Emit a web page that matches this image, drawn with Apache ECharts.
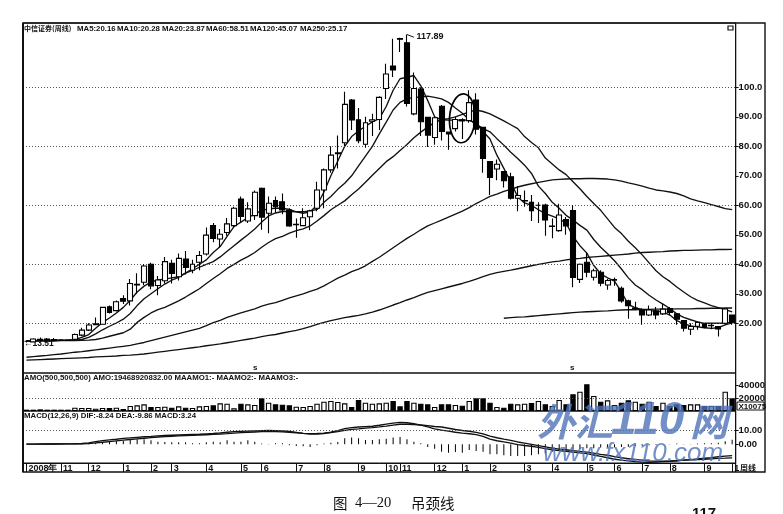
<!DOCTYPE html>
<html><head><meta charset="utf-8">
<style>html,body{margin:0;padding:0;background:#fff;overflow:hidden}#c{width:783px;height:514px}</style>
<script src="https://cdn.jsdelivr.net/npm/echarts@6/dist/echarts.min.js"></script>
</head><body><div id="c"></div>
<script>
const monthLabels = ['2008年','','','','','11','','','','12','','','','','1','','','','2','','','3','','','','','4','','','','','5','','','6','','','','','7','','','','8','','','','','9','','','','10','','11','','','','','12','','','','1','','','','2','','','','','3','','','','4','','','','','5','','','','6','','','','7','','','','8','','','','','9','','','','1'];
const openP = [13.9,13.7,14.6,14.7,14.2,14.3,14.2,14.6,16,17.7,19.5,19.7,25.6,24.3,28.4,27.6,33,33.9,40,32.8,34.4,40.3,35.8,41.8,38,40.7,43.5,53.1,48.6,50.8,53.1,62.1,54.7,56.5,65.8,57.3,61.6,61.2,58.4,53.4,53.1,56.1,59,65.2,72,77.5,81.2,95.7,89,80.7,88.5,89.1,99.6,107.2,116.5,115.1,91,99.4,89.8,83,93.6,84.8,86,89,88.7,95.7,86.4,74.8,72.3,71.4,69.7,62.4,61.5,61,60,60.1,52.8,51.4,55.2,58.2,34.9,40.7,35.6,37.3,33,34.6,31.9,27.6,25,24.5,22.8,24.2,23.2,25,23.2,20.9,18,19,19.8,19.2,18.9,20,22.8];
const closeP = [13.9,14.7,14.2,14,14.5,14.3,14.3,16.2,17.7,19.4,19.8,25.4,23.7,27.3,27.5,33.5,33.2,39.4,32.7,34.7,40.9,36.9,42,38.9,40,43,49.9,48.8,50.2,53.7,59,56.2,58.8,64.4,56,60.7,59.5,58.4,53,53.6,55.8,58.1,65.2,72,77,77.8,94.2,88.9,81.9,88,89,96.6,104.5,105.9,116.3,94.5,99.6,88.3,83.8,89.7,85,84.2,89.1,88.6,94.8,85.8,75.9,69.4,73.9,68.3,62.4,63.3,61.6,58.2,60,55,53,56.7,53,35.5,40,37.3,37.8,33.6,34.5,34.8,27.6,26,25.2,22.8,24.5,22.8,24.8,23.7,21.4,18.3,18.9,20.3,18.6,19.3,18.1,24.9,20.2];
const lowP = [13.5,13.5,13.8,13.6,13.9,14,14,14,15.6,17.4,19.3,19.5,23.3,24,26.5,26,30,33,31.5,29.5,33.5,33.5,34.5,36.5,37,38,43,47.5,45.7,49.7,52.5,54,54,55,51.7,50.5,57.5,57,52.7,49,53,51.5,58,59,71,72.5,80,85.5,81,79.5,83.5,85.5,96,103.5,112,93.5,90.5,83.5,79.8,80.5,82,78.8,85,82.5,88,84,71,63.5,68.5,66,62,58,59.5,54.7,54,49.7,48.8,51,50,32.2,33.7,35.6,34.5,32.6,31.4,32.7,27,21.5,24.5,19.5,22.5,21.4,22.8,22.7,19.5,17.2,16,17.8,18.3,18,15.5,19.7,19.5];
const highP = [14.2,14.9,15.2,15,15,14.6,14.5,16.5,18.5,20,22,25.6,26,27.7,29.5,35,37,40,40.5,36,42.5,41.5,43.7,44.5,41.5,44.5,52.5,54,52,55.7,59.5,63,61,65,66,63,63,64,59,55.5,59,58.5,68,72.5,80,83.7,98.5,96,93,90,91,97,108,116.5,116.8,117.89,105,100,90,90,94,85,90,89.5,99,98,86.5,75,75.5,71.5,71,66.5,65,63.5,61,60.5,55.5,60.5,56,60,40.3,44,38.5,38,35,35.5,32.5,28,27.3,25,26,25.5,26.5,25.5,23.5,21,20,20.5,20,20,19,25.2,23];
const ma5 = [14,14.1,14.2,14.2,14.3,14.3,14.3,14.5,15.2,16.2,18.3,20.3,21.8,23.5,25.4,27.8,30.6,32.6,34,34.7,35,35.4,35.8,37,38.5,40,41.5,44,46,49.5,52.8,54.3,55.8,57,58.3,58.8,59,59,58.6,57.8,57.3,57.8,60,64.5,70,75,80,83.3,85.2,86.8,88.3,89.4,93.5,99,102.9,103.4,104,100.5,95.5,90,89,88.9,88.9,88.9,88.9,87.8,85,82.5,77,72.5,68,62.8,60.8,60,58.5,57.2,56.3,55.4,53.9,49.5,46.3,43.8,39.6,36.8,35.4,34.3,30.6,26.4,25.2,24.7,24.3,24.1,23.9,22.8,20.9,19.9,19.1,18.8,18.5,18.3,18.5,19.5,20.16];
const ma10 = [14,14,14.1,14.2,14.2,14.2,14.2,14.3,14.5,15.2,16.4,17.8,19,20.1,21.4,23.3,26,28.3,30,31.7,33.3,34.6,35.6,37,37.9,39,40,40.9,42.5,44.4,46.3,48.2,50,52,54.3,56.4,57.4,57.9,57.9,57.8,57.8,58,58.6,61,63,65.4,67.5,70,73.4,76.7,80,84.2,88.2,92.3,94.9,96.1,96.6,96.7,97,96.6,96.1,94.9,93,91.2,89,87.5,86,84.9,82.6,80.4,78,75.9,73.6,70.8,66.5,64,61,59,56.6,55,53.2,51.6,48.4,45.8,43.6,41.2,38.4,35.4,33,31.4,29.5,27.9,26.5,25,23.2,22,21.2,20.5,20,20,20,20.1,20.28];
const ma20 = [14,14,14,14,14,14.1,14.1,14.1,14.2,14.3,14.5,15,15.6,16.2,16.8,18,20.3,22,23.5,24.6,25.4,26.5,27.6,28.9,30.3,31.7,33.5,35.2,36.8,38.6,40,41.4,42.6,44,45.8,47.4,48.7,49.5,50.6,51.4,52,53,54.7,56.5,58.5,60,61.5,63.6,65.5,67.8,70.2,72.5,74.8,76.5,78.6,80.6,82.9,84.8,86.5,88.1,89,89.4,90,90.8,91.7,92.3,91.8,91,89.8,88.6,87.3,86,83.3,81.3,79.5,76,74,72,70.4,68,65.6,63,60.6,58.3,55.4,52.5,50.4,47.8,45.6,43.2,40.5,37.8,35.8,34.2,32.3,30.6,29,27.8,26.9,26,25.3,24.6,23.87];
const ma60 = [8.5,8.7,8.9,9.1,9.4,9.6,9.9,10.2,10.4,10.7,11,11.3,11.6,11.9,12.2,12.5,13,13.5,14.1,14.7,15.3,15.9,16.5,17.1,17.7,18.3,19.2,20.2,21,22,22.8,23.5,24.2,24.9,25.8,26.5,27,27.8,28.6,29.3,30,30.8,31.6,32.7,34,35.3,36.3,37.5,38.4,39.5,41,42.4,44,45.6,47.2,48.8,50.2,51.7,53,54,55,56,57,58,59.2,60.6,61.8,63,63.8,64.7,65.4,66.2,66.8,67.3,67.8,68.2,68.6,68.8,68.9,69,69,69.1,69.1,69,68.9,68.6,68.2,67.6,67.1,66.5,65.8,65.2,64.9,64.5,64,63.2,62.2,61.5,60.9,60.2,59.6,58.9,58.51];
const ma120 = [7.5,7.6,7.7,7.8,7.9,8,8.1,8.2,8.3,8.4,8.6,8.7,8.8,8.9,9.1,9.2,9.4,9.6,9.9,10.2,10.5,10.8,11.1,11.4,11.7,12,12.4,12.7,13,13.4,13.8,14.2,14.6,15,15.5,15.9,16.2,16.7,17.2,17.6,18.2,18.9,19.6,20.3,20.9,21.4,21.9,22.3,22.7,23.2,23.8,24.5,25.3,26.2,27,27.9,28.7,29.6,30.5,31.1,31.7,32.3,32.9,33.5,34.2,35,35.8,36.6,37.2,37.6,38,38.5,39,39.5,40,40.4,40.8,41.1,41.5,41.8,42,42.3,42.5,42.7,42.9,43.1,43.3,43.5,43.8,44,44.1,44.2,44.3,44.5,44.6,44.7,44.7,44.8,44.9,44.9,45,45,45.07];
const ma250Tail = [21.7,21.9,22.1,22.2,22.4,22.6,22.8,23,23.2,23.4,23.6,23.8,23.9,24,24.1,24.2,24.4,24.5,24.6,24.6,24.7,24.7,24.8,24.8,24.8,24.9,24.9,24.9,25,25,25.1,25.1,25.2,25.17];
const volume = [2050,2050,2550,2050,2050,2050,2050,5130,4620,4620,3590,4620,4620,5130,3080,7700,8720,10260,6160,6160,6670,5130,7180,5130,4620,7180,7700,8720,11800,11290,4100,11290,10260,9230,19490,12830,10260,9750,8720,6670,6160,7700,11290,14360,15390,13850,11800,6160,16930,12830,11290,11800,12830,15390,7180,15390,12830,11290,10260,6160,10260,10260,9230,8210,15390,19490,19490,12830,6160,5130,11290,10260,11290,12310,15390,10260,7700,16930,10260,25650,29750,41040,23090,14360,16420,9230,12830,16420,14360,11290,14360,7700,12830,7700,10260,9230,10260,10260,7700,7700,7700,29750,19469];
const dif = [0.1,0.1,0.2,0.2,0.2,0.3,0.3,0.4,0.6,1,1.9,2.7,3.2,3.7,4.3,4.7,5.1,5.5,5.8,6.2,6.4,6.6,6.8,7,7.2,7.3,7.6,7.9,8.3,8.8,9.2,9.4,9.6,9.8,10,10.1,10,9.7,9.4,8.7,8,7.4,7.5,7.9,8.8,10,11.4,12.2,12.6,12.9,13.2,13.9,14.7,15.4,16,15.7,15,14,12.7,11.2,10.4,9.6,8.8,8.2,7.7,7,5.8,3.8,2.6,1.8,0.8,-0.2,-0.9,-1.4,-2.3,-3.2,-4,-4.6,-5.1,-5.7,-6.3,-6.8,-7.8,-8.8,-9.8,-10.9,-11.6,-12.1,-12.6,-13,-13.1,-13,-12.7,-12.4,-12,-11.6,-11.2,-10.7,-10.2,-9.7,-9.1,-8.6,-8.24];
const dea = [0.1,0.1,0.1,0.2,0.2,0.2,0.3,0.3,0.4,0.6,1,1.5,2,2.5,3,3.5,4,4.4,4.9,5.3,5.6,5.9,6.2,6.4,6.6,6.8,7,7.2,7.5,7.8,8.2,8.5,8.8,9,9.2,9.3,9.3,9.1,8.8,8.4,8,7.8,7.9,8.1,8.6,9.3,10.2,10.9,11.3,11.8,12.2,12.7,13.3,14,14.6,14.6,14.4,14.1,13.6,13,12.6,11.7,10.8,10.1,9.5,8.7,7.6,6,4.8,3.8,2.9,1.7,0.8,-0.1,-1,-1.9,-2.8,-3.5,-4,-4.6,-5.2,-5.7,-6.5,-7.3,-8,-9,-9.8,-10.4,-11,-11.6,-12.1,-12.3,-12.3,-12.2,-12,-11.6,-11.4,-11.2,-10.9,-10.6,-10.3,-10.1,-9.86];
const macd = [0.1,0.1,0.1,0.1,0.1,0.1,0.1,0.7,0.5,0.3,1.2,1.7,1.7,2.4,2.4,3.4,3.6,3.6,2.9,1.9,1.7,1.5,1.5,1.5,0.7,0.7,1.5,1.9,1.5,2.9,1.9,1.9,2.9,1.9,0.5,0.2,0.7,0.7,-0.7,-1.2,-1.5,-1.9,-0.7,0.5,1.2,1.7,4.4,4.9,4.4,3.2,3.2,3.6,4.1,4.9,5.4,3.6,1.9,0.7,-1.9,-3.2,-5.4,-6.1,-5.6,-6.1,-4.1,-4.9,-5.4,-7.3,-7.3,-8,-8.5,-8.5,-8.5,-8,-7.3,-6.8,-5.4,-4.4,-3.9,-3.6,-3.4,-2.9,-2.9,-2.4,-2.4,-2.2,-1.9,-1.7,-1.2,-1,-0.7,-0.5,-0.2,-0.2,0.5,-0.2,0.2,0.5,0.7,0.7,1.2,2.2,3.24];
const priceTicks = [20,30,40,50,60,70,80,90,100];
const priceGrid = [20,40,60,80,100];
const volumeTicks = [20000,40000];
const macdTicks = [0,10];
const highValue = 117.89, lowValue = 13.51;
const headMain = [['中信证券(周线)',24],['MA5:20.16',77],['MA10:20.28',117],['MA20:23.87',162],['MA60:58.51',206],['MA120:45.07',250],['MA250:25.17',300]];
const headAmo = 'AMO(500,500,500) AMO:19468920832.00 MAAMO1:- MAAMO2:- MAAMO3:-';
const headMacd = 'MACD(12,26,9) DIF:-8.24 DEA:-9.86 MACD:3.24';
const candles = openP.map((o,i)=>[o,closeP[i],lowP[i],highP[i]]);
const ma250 = new Array(openP.length-ma250Tail.length).fill(null).concat(ma250Tail);
const isUp = i => closeP[i]>=openP[i];

const L=23, R=783-735.6, B='#111', F='"Liberation Sans",Arial,sans-serif';
const lab = {color:B,fontFamily:F,fontWeight:'bold',fontSize:9.5,margin:3};
const dotted = v => ({silent:true,symbol:'none',label:{show:false},animation:false,
  lineStyle:{color:'#555',type:[1,2],width:1},data:v.map(y=>({yAxis:y}))});
const grid = (top,h)=>({left:L,right:R,top:top,height:h,show:true,borderColor:B,borderWidth:1,backgroundColor:'transparent'});
const xA = (g,extra)=>Object.assign({type:'category',gridIndex:g,data:monthLabels,boundaryGap:true,
  axisLine:{show:false,onZero:false},axisTick:{show:false},axisLabel:{show:false},splitLine:{show:false}},extra||{});
const yA = (g,min,max,ticks,fmt)=>({type:'value',gridIndex:g,position:'right',min:min,max:max,scale:false,
  axisLine:{show:true,lineStyle:{color:B,width:1}},
  axisTick:{show:true,length:3,lineStyle:{color:B,width:1},customValues:ticks},
  axisLabel:{show:true,...lab,customValues:ticks,formatter:fmt},splitLine:{show:false}});
const line = (name,data,x,y)=>({name,type:'line',data,xAxisIndex:x||0,yAxisIndex:y||0,symbol:'none',silent:true,
  lineStyle:{color:B,width:1.35},connectNulls:false,animation:false,z:4});
const txt = (t,x,y,o)=>({type:'text',x,y,silent:true,z:50,style:Object.assign({text:t,fill:B,font:'bold 7.8px '+F,textVerticalAlign:'middle'},o||{})});
const pointLabel = (text,offset,size)=>({show:true,position:'right',distance:0,formatter:text,color:B,fontFamily:F,fontWeight:'bold',fontSize:size,offset:offset});

const option = {
  animation:false, backgroundColor:'#fff',
  grid:[grid(23,350),grid(373,38),grid(411,52)],
  xAxis:[xA(0),xA(1),xA(2,{
    axisLine:{show:true,onZero:false,lineStyle:{color:B}},
    axisTick:{show:true,length:9,alignWithLabel:true,lineStyle:{color:B,width:1},interval:i=>monthLabels[i]!==''},
    axisLabel:{show:true,color:B,fontFamily:F,fontWeight:'bold',fontSize:9,margin:0,align:'left',padding:[1,0,0,2],hideOverlap:false,interval:i=>monthLabels[i]!==''}
  })],
  yAxis:[
    yA(0,3.15,121.8,priceTicks,v=>v>=100?v.toFixed(1):v.toFixed(2)),
    yA(1,0,58450,volumeTicks,v=>String(v)),
    yA(2,-13.65,24.3,macdTicks,v=>v.toFixed(2))
  ],
  series:[
    {name:'K线',type:'candlestick',data:candles,barWidth:5.4,silent:true,z:5,
     itemStyle:{color:'#fff',color0:'#000',borderColor:'#000',borderColor0:'#000',borderWidth:1.1},
     markLine:dotted(priceGrid),
     markPoint:{silent:true,symbol:'circle',symbolSize:1,itemStyle:{color:'rgba(0,0,0,0)'},animation:false,data:[
       {coord:[0,lowValue-0.2],label:pointLabel('←'+lowValue,[-3,1],8.5)},
       {coord:[56.4,highValue-0.6],label:pointLabel(String(highValue),[2,0],9)}
     ]}},
    {name:'高点',type:'line',data:monthLabels.map((m,i)=>i===55?highValue:i===56?highValue-0.9:null),symbol:'none',silent:true,lineStyle:{color:B,width:1},z:6},
    line('MA5',ma5),line('MA10',ma10),line('MA20',ma20),line('MA60',ma60),line('MA120',ma120),line('MA250',ma250),
    {name:'AMO',type:'bar',xAxisIndex:1,yAxisIndex:1,data:volume,barWidth:5.4,silent:true,
     itemStyle:{color:p=>isUp(p.dataIndex)?'#fff':'#000',borderColor:'#000',borderWidth:1.1},
     markLine:dotted([20000])},
    {name:'MACD',type:'bar',xAxisIndex:2,yAxisIndex:2,data:macd,barWidth:1,silent:true,itemStyle:{color:'#000'},
     markLine:dotted([10])},
    line('DIF',dif,2,2),line('DEA',dea,2,2)
  ],
  graphic:[
    {type:'rect',silent:true,z:40,shape:{x:L,y:23,width:742,height:449},style:{fill:'none',stroke:B,lineWidth:1.4}},
    {type:'line',silent:true,z:40,shape:{x1:L,y1:23,x2:L,y2:472},style:{stroke:B,lineWidth:2}},
    {type:'line',silent:true,z:40,shape:{x1:735.6,y1:23,x2:735.6,y2:472},style:{stroke:B,lineWidth:1.2}},
    ...headMain.map(h=>txt(h[0],h[1],28.5,h[0].includes('中')?{font:'bold 7px "Noto Sans CJK SC"'}:{})),
    txt(headAmo,24,378),
    txt(headMacd,24,416),
    {type:'rect',silent:true,z:41,shape:{x:737,y:402,width:27,height:8},style:{fill:'#fff',stroke:B,lineWidth:1}},
    txt('X10075',738.5,406.3,{font:'bold 8px '+F}),
    txt('周线',740,467.5,{font:'bold 8px "Noto Sans CJK SC"'}),
    {type:'rect',silent:true,z:41,shape:{x:728,y:26,width:5,height:4},style:{fill:'#fff',stroke:B,lineWidth:1.2}},
    txt('s',253,367.5,{font:'bold 8px '+F}),
    txt('s',570,367.5,{font:'bold 8px '+F}),
    {type:'ellipse',silent:true,z:42,shape:{cx:462.3,cy:118.3,rx:12.8,ry:24.5},originX:462.3,originY:118.3,rotation:-0.06,style:{fill:'none',stroke:'#000',lineWidth:1.7}},
    {type:'text',silent:true,z:60,x:537,y:422,style:{text:'外汇',fill:'rgba(80,115,185,0.8)',font:'italic bold 38px "Noto Sans CJK SC"',textVerticalAlign:'middle'}},
    {type:'text',silent:true,z:60,x:611,y:421,style:{text:'110',fill:'rgba(80,115,185,0.8)',font:'italic bold 46px "Liberation Sans"',textVerticalAlign:'middle'}},
    {type:'text',silent:true,z:60,x:690,y:422,style:{text:'网',fill:'rgba(80,115,185,0.8)',font:'italic bold 38px "Noto Sans CJK SC"',textVerticalAlign:'middle'}},
    {type:'text',silent:true,z:60,x:543,y:454,style:{text:'www.fx110.com',fill:'rgba(80,115,185,0.8)',font:'italic 26px "Liberation Sans"',textVerticalAlign:'middle'}},
    {type:'text',silent:true,z:60,x:333,y:503,style:{text:'图',fill:'#111',font:'14.5px "Noto Sans CJK SC"',textVerticalAlign:'middle'}},
    {type:'text',silent:true,z:60,x:355,y:503,style:{text:'4—20',fill:'#111',font:'14.5px "Liberation Serif"',textVerticalAlign:'middle'}},
    {type:'text',silent:true,z:60,x:411,y:503,style:{text:'吊颈线',fill:'#111',font:'14.5px "Noto Sans CJK SC"',textVerticalAlign:'middle'}},
    {type:'text',silent:true,z:60,x:692,y:514,style:{text:'117',fill:'#111',font:'bold 15px "Liberation Sans"',textVerticalAlign:'middle'}}
  ]
};
echarts.init(document.getElementById('c'),null,{renderer:'canvas'}).setOption(option);
</script></body></html>
